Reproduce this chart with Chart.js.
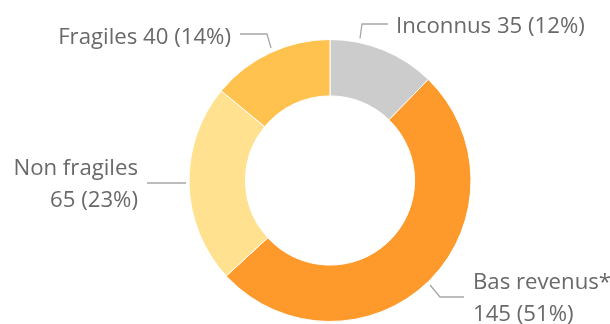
<!DOCTYPE html>
<html>
<head>
<meta charset="utf-8">
<script src="https://cdn.jsdelivr.net/npm/chart.js@4"></script>
<style>
  html, body { margin: 0; padding: 0; background: #fff; }
  #wrap { width: 610px; height: 324px; }
</style>
</head>
<body>
<div id="wrap"><canvas id="donut"></canvas></div>
<script>
// Household categories, clockwise from 12 o'clock
const categories = ['Inconnus', 'Bas revenus*', 'Non fragiles', 'Fragiles'];
const counts = [35, 145, 65, 40];
const sliceColors = ['#CCCCCC', '#FE9A2C', '#FFE190', '#FFC24F'];

const total = counts.reduce((a, b) => a + b, 0);
const pct = v => Math.round(v / total * 100) + '%';

// Label text lines per slice
const labelLines = [
  [`${categories[0]} ${counts[0]} (${pct(counts[0])})`],
  [categories[1], `${counts[1]} (${pct(counts[1])})`],
  [categories[2], `${counts[2]} (${pct(counts[2])})`],
  [`${categories[3]} ${counts[3]} (${pct(counts[3])})`]
];

// Callout placement relative to the ring centre (px): leader path, text anchor, alignment
const callouts = [
  { path: [[30, -142], [32, -156.5], [58, -156.5]], text: [66, -154], align: 'left' },
  { path: [[100, 104.5], [110, 116.5], [134, 116.5]], text: [143, 102], align: 'left' },
  { path: [[-183, 2.5], [-144, 2.5]], text: [-192, -12], align: 'right' },
  { path: [[-90, -146.5], [-63, -146.5], [-59, -132.5]], text: [-99, -142.5], align: 'right' }
];

const calloutPlugin = {
  id: 'callouts',
  afterDraw(chart) {
    const ctx = chart.ctx;
    const arc = chart.getDatasetMeta(0).data[0];
    const cx = arc.x, cy = arc.y;
    ctx.save();
    callouts.forEach((c, i) => {
      ctx.beginPath();
      c.path.forEach(([dx, dy], k) => {
        if (k === 0) ctx.moveTo(cx + dx, cy + dy);
        else ctx.lineTo(cx + dx, cy + dy);
      });
      ctx.strokeStyle = '#A6A6A6';
      ctx.lineWidth = 1.3;
      ctx.stroke();

      ctx.fillStyle = '#696969';
      ctx.font = '22.2px "Open Sans", "Noto Sans", sans-serif';
      ctx.textAlign = c.align;
      ctx.textBaseline = 'middle';
      labelLines[i].forEach((line, j) => {
        ctx.fillText(line, cx + c.text[0], cy + c.text[1] + j * 32);
      });
    });
    ctx.restore();
  }
};

new Chart(document.getElementById('donut'), {
  type: 'doughnut',
  data: {
    labels: categories,
    datasets: [{
      data: counts,
      backgroundColor: sliceColors,
      borderColor: '#FFFFFF',
      borderWidth: 1
    }]
  },
  options: {
    responsive: true,
    maintainAspectRatio: false,
    animation: false,
    cutout: '60%',
    layout: { padding: { top: 39, bottom: 2, left: 50, right: 0 } },
    plugins: {
      legend: { display: false },
      tooltip: { enabled: false }
    }
  },
  plugins: [calloutPlugin]
});
</script>
</body>
</html>
